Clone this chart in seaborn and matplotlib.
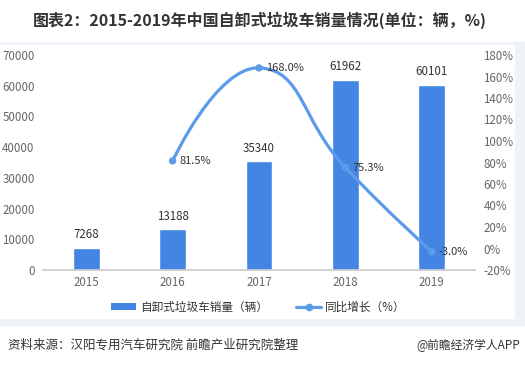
import numpy as np
import matplotlib
matplotlib.use("Agg")
import matplotlib.pyplot as plt
import seaborn as sns
from matplotlib.patches import Rectangle, Patch, PathPatch
from matplotlib.lines import Line2D
from matplotlib.path import Path
from matplotlib.ticker import FuncFormatter

# chart data
years = ['2015', '2016', '2017', '2018', '2019']
sales = [7268, 13188, 35340, 61962, 60101]
growth_years = ['2016', '2017', '2018', '2019']
growth = [81.5, 168.0, 75.3, -3.0]
left_ticks = [0, 10000, 20000, 30000, 40000, 50000, 60000, 70000]
right_ticks = [-20, 0, 20, 40, 60, 80, 100, 120, 140, 160, 180]

title = '图表2：2015-2019年中国自卸式垃圾车销量情况(单位：辆，%)'
bar_name = '自卸式垃圾车销量（辆）'
line_name = '同比增长（%）'
source = '资料来源：汉阳专用汽车研究院 前瞻产业研究院整理'
brand = '@前瞻经济学人APP'

bar_color = '#4285E3'
line_color = '#5B9BEA'
text_color = '#666666'

sns.set_theme(style='white')
plt.rcParams['font.family'] = ['Noto Sans CJK SC', 'DejaVu Sans']

W, H = 525, 365
fig = plt.figure(figsize=(W / 100, H / 100), dpi=100)
fig.patch.set_facecolor('white')

# light frame behind the chart area
fig.patches.append(Rectangle((0, 1 - 326 / H), 1, (326 - 42) / H, transform=fig.transFigure,
                             facecolor='#EEF2F9', edgecolor='none', zorder=-10))
fig.patches.append(Rectangle((0, 1 - 319 / H), 515 / W, (319 - 45) / H, transform=fig.transFigure,
                             facecolor='white', edgecolor='none', zorder=-9))

ax = fig.add_axes([43 / W, 1 - 270 / H, 432 / W, 215 / H])
ax.patch.set_alpha(0)
sns.barplot(x=years, y=sales, color=bar_color, saturation=1, width=0.31, ax=ax, zorder=2)
ax.set_xlim(-0.5, len(years) - 0.5)
ax.set_ylim(left_ticks[0], left_ticks[-1])
ax.set_yticks(left_ticks)
ax.set_xlabel('')
ax.set_ylabel('')
for s in ['top', 'left', 'right']:
    ax.spines[s].set_visible(False)
ax.spines['bottom'].set_color('#CCCCCC')
ax.tick_params(axis='both', length=0, labelsize=8.3, colors=text_color)
ax.tick_params(axis='y', pad=6)
ax.tick_params(axis='x', pad=4)

for i, v in enumerate(sales):
    ax.annotate(str(v), (i, v), xytext=(0, 5), textcoords='offset points',
                ha='center', va='bottom', fontsize=8.3, color='#333333')

ax2 = ax.twinx()
ax2.patch.set_alpha(0)
ax2.set_ylim(right_ticks[0], right_ticks[-1])
ax2.set_yticks(right_ticks)
ax2.yaxis.set_major_formatter(FuncFormatter(lambda v, _: f'{v:.0f}%'))
for s in ax2.spines.values():
    s.set_visible(False)
ax2.tick_params(axis='y', length=0, labelsize=8.3, colors=text_color, pad=6)
ax2.grid(False)
ax.grid(False)

# smooth line through the growth points (echarts-like bezier smoothing, in pixel space)
gx = np.array([years.index(y) for y in growth_years], dtype=float)
gy = np.array(growth, dtype=float)
pts = ax2.transData.transform(np.column_stack([gx, gy]))
smooth = 0.5
n = len(pts)
verts, codes = [pts[0]], [Path.MOVETO]
cp0 = pts[0]
for i in range(1, n):
    p = pts[i]
    prev = pts[i - 1]
    if i < n - 1:
        nxt = pts[i + 1]
        v = nxt - prev
        l0 = np.hypot(*(p - prev))
        l1 = np.hypot(*(nxt - p))
        r = l1 / (l0 + l1)
        cp1 = p - v * smooth * (1 - r)
    else:
        v = np.zeros(2)
        r = 0.5
        cp1 = p
    verts += [cp0, cp1, p]
    codes += [Path.CURVE4] * 3
    cp0 = p + v * smooth * r
inv = ax2.transData.inverted()
path = Path(inv.transform(np.array(verts)), codes)
ax2.add_patch(PathPatch(path, facecolor='none', edgecolor=line_color, lw=2.3,
                        capstyle='round', zorder=3))
sns.scatterplot(x=gx, y=gy, ax=ax2, color=line_color, s=28, edgecolor='none', zorder=4)

for xv, yv in zip(gx, gy):
    ax2.annotate(f'{yv:.1f}%', (xv, yv), xytext=(5, 0), textcoords='offset points',
                 ha='left', va='center', fontsize=8, color='#333333')

handles = [Patch(facecolor=bar_color, edgecolor='none', label=bar_name),
           Line2D([0], [0], color=line_color, lw=2.3, marker='o', markersize=4.5, label=line_name)]
fig.legend(handles=handles, loc='center', bbox_to_anchor=(258 / W, 1 - 307 / H), ncol=2,
           frameon=False, fontsize=8.4, handlelength=2.2, handleheight=0.55,
           handletextpad=0.3, columnspacing=2.4, labelcolor='#333333')

fig.text(33 / W, 1 - 20 / H, title, fontsize=11.5, fontweight='bold', color='#333333',
         ha='left', va='center')
fig.text(8 / W, 1 - 345 / H, source, fontsize=9, color='#333333', ha='left', va='center')
fig.text(520 / W, 1 - 345 / H, brand, fontsize=8.5, color='#333333', ha='right', va='center')

fig.savefig('out.png', dpi=100)
